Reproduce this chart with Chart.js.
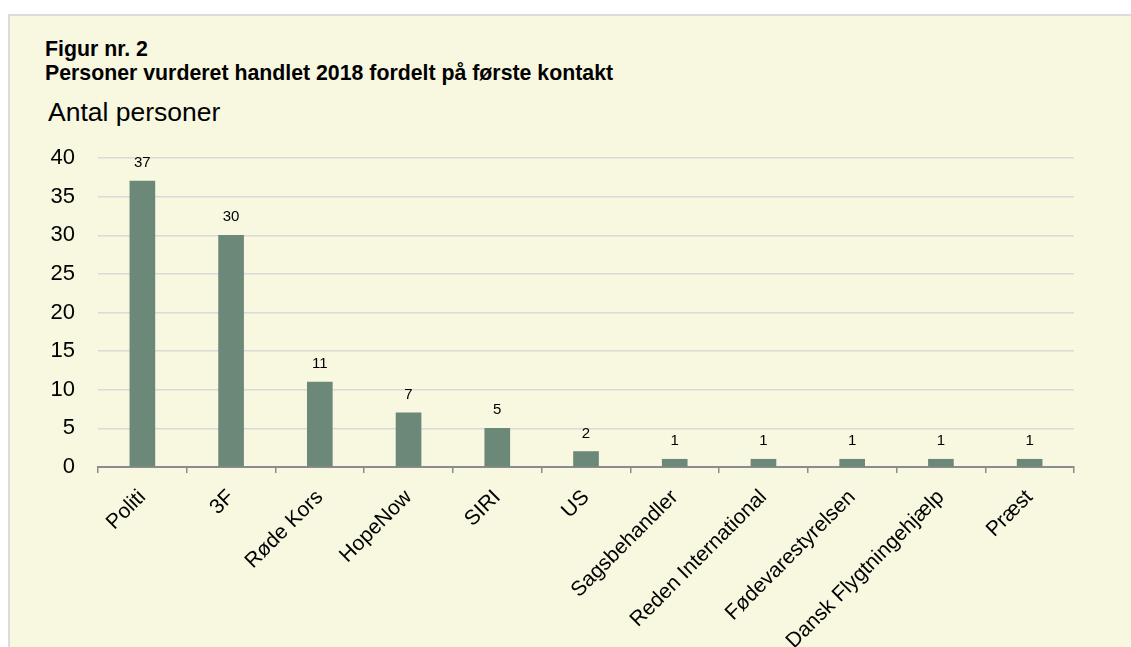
<!DOCTYPE html>
<html><head><meta charset="utf-8">
<script src="https://cdn.jsdelivr.net/npm/chart.js@4.4.1/dist/chart.umd.min.js"></script>
<style>
html,body{margin:0;padding:0;background:#fff;}
#wrap{position:relative;width:1131px;height:647px;overflow:hidden;}
#panel{position:absolute;left:8px;top:14px;right:0;bottom:0;background:#F8F7E0;border-top:2px solid #DCDCDC;border-left:2px solid #DCDCDC;}
.t{position:absolute;font-family:"Liberation Sans",Arial,sans-serif;color:#000;white-space:nowrap;}
canvas{position:absolute;left:0;top:0;}
</style></head><body>
<div id="wrap"><div id="panel"></div>
<div class="t" style="left:45px;top:38px;font-size:21.3px;font-weight:bold;line-height:23.5px">Figur nr. 2<br>Personer vurderet handlet 2018 fordelt på første kontakt</div>
<div class="t" style="left:48px;top:97px;font-size:26.5px;">Antal personer</div>
<canvas id="c" width="1131" height="647"></canvas></div>
<script>
const categories = ["Politi","3F","Røde Kors","HopeNow","SIRI","US","Sagsbehandler","Reden International","Fødevarestyrelsen","Dansk Flygtningehjælp","Præst"];
const values = [37,30,11,7,5,2,1,1,1,1,1];
const yTicks = [0,5,10,15,20,25,30,35,40];

const FONT = '"Liberation Sans", Arial, sans-serif';

const valueLabels = {
  id: 'valueLabels',
  afterDatasetsDraw(chart) {
    const ctx = chart.ctx;
    const meta = chart.getDatasetMeta(0);
    ctx.save();
    ctx.font = '15px ' + FONT;
    ctx.fillStyle = '#000';
    ctx.textAlign = 'center';
    ctx.textBaseline = 'alphabetic';
    meta.data.forEach((bar, i) => {
      ctx.fillText(String(values[i]), bar.x, bar.y - 14);
    });
    ctx.restore();
  }
};

new Chart(document.getElementById('c'), {
  type: 'bar',
  data: {
    labels: categories,
    datasets: [{
      data: values,
      backgroundColor: '#6C8878',
      barThickness: 25
    }]
  },
  options: {
    responsive: false,
    animation: false,
    plugins: { legend: { display: false }, tooltip: { enabled: false } },
    layout: { padding: { left: 0, top: 158, right: 57, bottom: 0 } },
    scales: {
      x: {
        grid: { drawOnChartArea: false, drawTicks: true, tickLength: 6, color: '#8C8C8C', lineWidth: 1.5, offset: true },
        border: { color: '#8C8C8C', width: 2 },
        ticks: { autoSkip: false, maxRotation: 45, minRotation: 45, color: '#000', font: { family: FONT, size: 21 }, padding: 12 },
        afterFit(scale) { scale.height = 180; }
      },
      y: {
        min: 0, max: 40,
        afterBuildTicks(scale) { scale.ticks = yTicks.map(v => ({ value: v })); },
        grid: { drawTicks: false, color: '#DADADA', lineWidth: 1.5 },
        border: { display: false },
        ticks: { color: '#000', font: { family: FONT, size: 22 }, padding: 23 },
        afterFit(scale) { scale.width = 98; }
      }
    }
  },
  plugins: [valueLabels]
});
</script>
</body></html>
